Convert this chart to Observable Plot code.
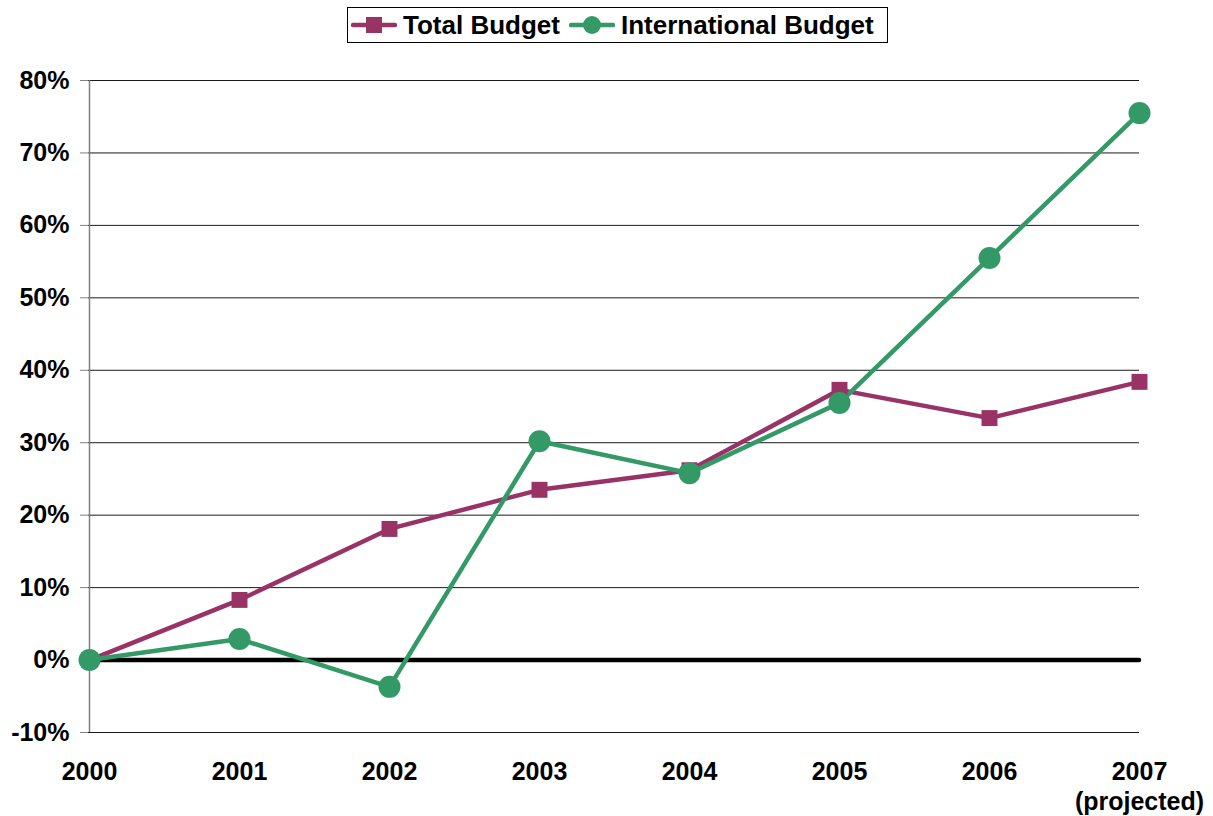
<!DOCTYPE html>
<html>
<head>
<meta charset="utf-8">
<script src="https://cdn.jsdelivr.net/npm/d3@7"></script>
<script src="https://cdn.jsdelivr.net/npm/@observablehq/plot@0.6"></script>
<style>
  html, body { margin: 0; padding: 0; background: #fff; }
  body { width: 1213px; height: 816px; overflow: hidden; font-family: "Liberation Sans", Arial, sans-serif; }
  #legend { height: 50px; position: relative; }
  #legend .box { position: absolute; left: 347px; top: 7px; width: 541px; height: 36px; border: 1.5px solid #000; box-sizing: border-box; display: flex; align-items: center; padding-left: 3px; font-weight: bold; font-size: 26px; color: #000; }
  #legend .item { display: flex; align-items: center; margin-right: 9px; }
  #legend svg { margin-right: 6px; }
</style>
</head>
<body>
<div id="legend"></div>
<div id="chart"></div>
<script>
const years = ["2000", "2001", "2002", "2003", "2004", "2005", "2006", "2007"];
const tickLabels = ["2000", "2001", "2002", "2003", "2004", "2005", "2006", "2007\n(projected)"];
const seriesNames = ["Total Budget", "International Budget"];
const seriesColors = ["#993366", "#339966"];
const totalBudget = [0, 8.3, 18.1, 23.5, 26.2, 37.3, 33.4, 38.4];
const internationalBudget = [0, 2.9, -3.7, 30.2, 25.8, 35.5, 55.5, 75.5];
const yTicks = [-10, 0, 10, 20, 30, 40, 50, 60, 70, 80];

const totalData = years.map((y, i) => ({year: y, value: totalBudget[i]}));
const intlData = years.map((y, i) => ({year: y, value: internationalBudget[i]}));

const legend = document.getElementById("legend");
const box = document.createElement("div");
box.className = "box";
const symbols = ["square", "circle"];
seriesNames.forEach((name, i) => {
  const item = document.createElement("div");
  item.className = "item";
  const marker = symbols[i] === "square"
    ? `<rect x="15" y="4" width="16" height="16" fill="${seriesColors[i]}"/>`
    : `<circle cx="23" cy="12" r="9" fill="${seriesColors[i]}"/>`;
  item.innerHTML = `<svg width="46" height="24"><line x1="2" y1="12" x2="44" y2="12" stroke="${seriesColors[i]}" stroke-width="4.5" stroke-linecap="round"/>${marker}</svg><span>${name}</span>`;
  box.appendChild(item);
});
legend.appendChild(box);

const plot = Plot.plot({
  width: 1213,
  height: 766,
  marginTop: 30,
  marginBottom: 84,
  marginLeft: 88,
  marginRight: 74,
  style: {fontFamily: "'Liberation Sans', Arial, sans-serif", fontSize: "25px", fontWeight: "bold", color: "#000", background: "#fff"},
  x: {type: "point", domain: years, padding: 0},
  y: {domain: [-10, 80]},
  marks: [
    Plot.ruleY(yTicks.filter(d => d !== 0), {stroke: "#1a1a1a", strokeWidth: 1, strokeOpacity: 1}),
    Plot.ruleX(["2000"], {y1: -10, y2: 80, stroke: "#808080", strokeWidth: 1.5}),
    Plot.ruleY([0], {stroke: "#000", strokeWidth: 4.5, strokeLinecap: "round"}),
    Plot.axisY({ticks: yTicks, tickFormat: d => d + "%", tickSize: 8, tickPadding: 11, stroke: "#808080", fontSize: 25, fontWeight: "bold", label: null}),
    Plot.axisX({tickSize: 0, tickPadding: 26, tickFormat: (d) => tickLabels[years.indexOf(d)], fontSize: 25, fontWeight: "bold", lineHeight: 1.2, label: null}),
    Plot.line(totalData, {x: "year", y: "value", stroke: seriesColors[0], strokeWidth: 4.5}),
    Plot.line(intlData, {x: "year", y: "value", stroke: seriesColors[1], strokeWidth: 4.5}),
    Plot.dot(totalData, {x: "year", y: "value", symbol: "square", r: 9, fill: seriesColors[0], stroke: "none"}),
    Plot.dot(intlData, {x: "year", y: "value", symbol: "circle", r: 11, fill: seriesColors[1], stroke: "none"})
  ]
});
document.getElementById("chart").appendChild(plot);
</script>
</body>
</html>
